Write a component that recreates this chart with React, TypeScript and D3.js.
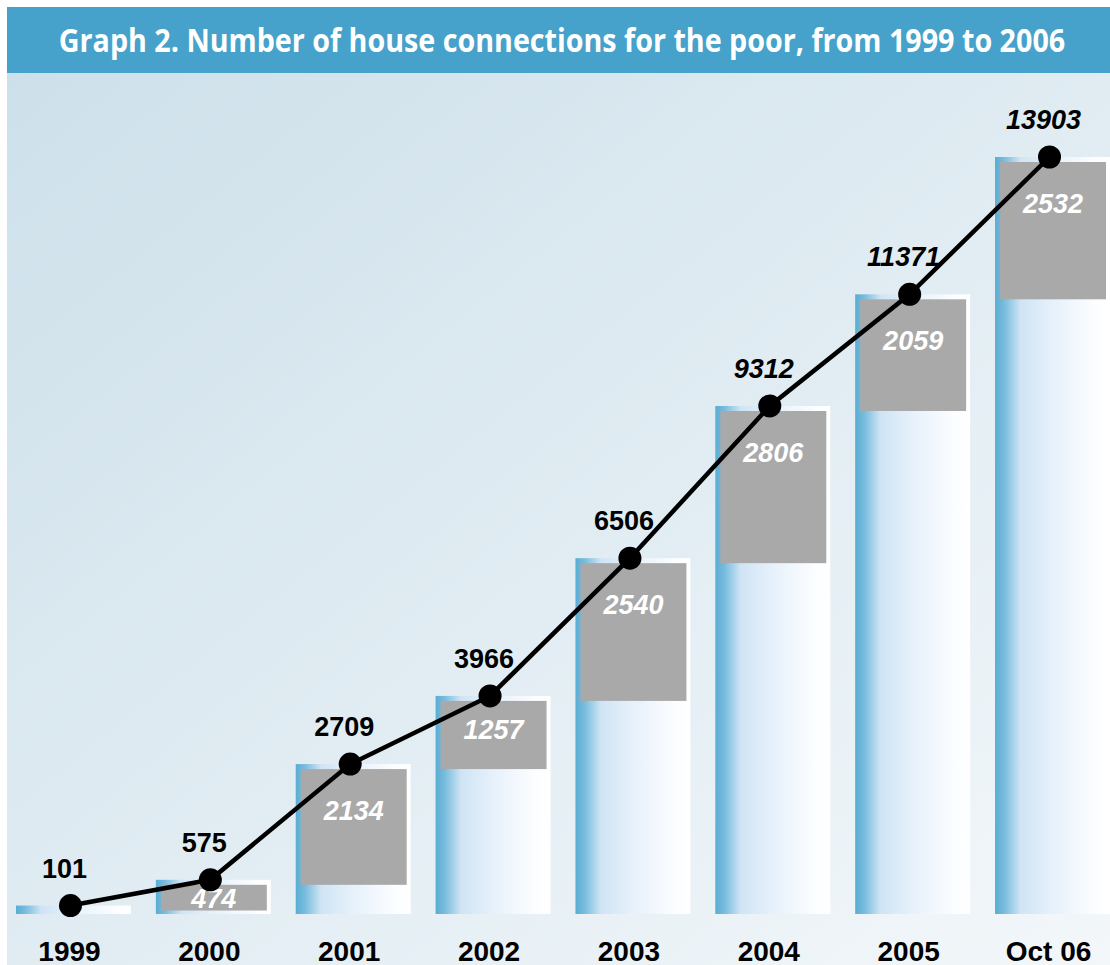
import { useEffect, useRef } from 'react';
import * as d3 from 'd3';

const years = ['1999', '2000', '2001', '2002', '2003', '2004', '2005', 'Oct 06'];
const totals = [101, 575, 2709, 3966, 6506, 9312, 11371, 13903];
const added = [0, 474, 2134, 1257, 2540, 2806, 2059, 2532];
const italicTotals = [false, false, false, false, false, true, true, true];

const W = 1110;
const H = 965;

export default function App() {
  const svgRef = useRef<SVGSVGElement>(null);

  useEffect(() => {
    if (!svgRef.current) return;
    const svg = d3.select(svgRef.current);
    svg.selectAll('*').remove();

    const defs = svg.append('defs');

    // panel background
    const bg = defs.append('linearGradient')
      .attr('id', 'bgGrad')
      .attr('x1', '0%').attr('y1', '0%')
      .attr('x2', '100%').attr('y2', '100%');
    bg.append('stop').attr('offset', '0%').attr('stop-color', '#cde0ea');
    bg.append('stop').attr('offset', '55%').attr('stop-color', '#e2edf3');
    bg.append('stop').attr('offset', '100%').attr('stop-color', '#f3f7fa');

    // bar gradient, blue on the left fading to white
    const barGrad = defs.append('linearGradient')
      .attr('id', 'barGrad')
      .attr('x1', '0%').attr('y1', '0%')
      .attr('x2', '100%').attr('y2', '0%');
    barGrad.append('stop').attr('offset', '0%').attr('stop-color', '#5aadd3');
    barGrad.append('stop').attr('offset', '8%').attr('stop-color', '#78bcdd');
    barGrad.append('stop').attr('offset', '22%').attr('stop-color', '#cfe4f4');
    barGrad.append('stop').attr('offset', '50%').attr('stop-color', '#e6f1fb');
    barGrad.append('stop').attr('offset', '85%').attr('stop-color', '#fbfdff');
    barGrad.append('stop').attr('offset', '100%').attr('stop-color', '#ffffff');

    svg.append('rect')
      .attr('x', 7).attr('y', 73)
      .attr('width', W - 7).attr('height', H - 73)
      .attr('fill', 'url(#bgGrad)');

    // title bar
    svg.append('rect')
      .attr('x', 7).attr('y', 7)
      .attr('width', W - 7).attr('height', 66)
      .attr('fill', '#46a2ca');

    // condensed-looking title: squeeze horizontally to the reference width
    const titleG = svg.append('g');
    const title = titleG.append('text')
      .attr('x', 0)
      .attr('y', 0)
      .attr('text-anchor', 'middle')
      .attr('fill', '#ffffff')
      .attr('font-family', '"Open Sans", "Noto Sans", sans-serif')
      .attr('font-weight', 700)
      .attr('font-size', '32px')
      .text('Graph 2. Number of house connections for the poor, from 1999 to 2006');
    const natural = (title.node() as SVGTextElement).getComputedTextLength() || 1007;
    const sx = Math.min(1, 1007 / natural);
    titleG.attr('transform', `translate(562,52) scale(${sx},1)`);

    const x = d3.scaleBand<string>()
      .domain(years)
      .range([16, W])
      .paddingInner(0.178)
      .paddingOuter(0);

    const y = d3.scaleLinear()
      .domain([0, 13903])
      .range([914, 160]);

    const bw = x.bandwidth();
    const cx = (i: number) => (x(years[i]) as number) + bw / 2;

    // bars
    const bars = svg.append('g');
    years.forEach((yr, i) => {
      const top = y(totals[i]) - 3;
      bars.append('rect')
        .attr('x', x(yr))
        .attr('y', top)
        .attr('width', bw)
        .attr('height', y(0) - top)
        .attr('fill', 'url(#barGrad)');

      if (added[i] > 0) {
        const gTop = y(totals[i]) + 2;
        const gBot = y(totals[i] - added[i]) + 2;
        const gh = gBot - gTop;
        bars.append('rect')
          .attr('x', (x(yr) as number) + 5)
          .attr('y', gTop)
          .attr('width', bw - 9)
          .attr('height', gh)
          .attr('fill', '#a9a9a9');

        bars.append('text')
          .attr('x', (x(yr) as number) + 5 + (bw - 9) / 2)
          .attr('y', gTop + Math.min(42, gh * 0.36 + 5))
          .attr('text-anchor', 'middle')
          .attr('dominant-baseline', 'central')
          .attr('fill', '#ffffff')
          .attr('font-family', '"Liberation Sans", Arial, sans-serif')
          .attr('font-weight', 'bold')
          .attr('font-style', 'italic')
          .attr('font-size', '27px')
          .text(String(added[i]));
      }
    });

    // line + dots
    const pts: [number, number][] = totals.map((v, i) => [cx(i) - 3, y(v) - 3]);
    svg.append('path')
      .datum(pts)
      .attr('d', d3.line())
      .attr('fill', 'none')
      .attr('stroke', '#000')
      .attr('stroke-width', 4.5);

    svg.append('g')
      .selectAll('circle')
      .data(pts)
      .join('circle')
      .attr('cx', (d) => d[0])
      .attr('cy', (d) => d[1])
      .attr('r', 11.5)
      .attr('fill', '#000');

    // total labels
    svg.append('g')
      .selectAll('text')
      .data(totals)
      .join('text')
      .attr('x', (d, i) => pts[i][0] - 6)
      .attr('y', (d, i) => pts[i][1] - 37)
      .attr('text-anchor', 'middle')
      .attr('dominant-baseline', 'central')
      .attr('fill', '#000')
      .attr('font-family', '"Liberation Sans", Arial, sans-serif')
      .attr('font-weight', 'bold')
      .attr('font-style', (d, i) => (italicTotals[i] ? 'italic' : 'normal'))
      .attr('font-size', '27px')
      .text((d) => String(d));

    // x axis labels
    svg.append('g')
      .selectAll('text')
      .data(years)
      .join('text')
      .attr('x', (d) => (x(d) as number) + bw / 2 - 4)
      .attr('y', 951)
      .attr('text-anchor', 'middle')
      .attr('dominant-baseline', 'central')
      .attr('fill', '#000')
      .attr('font-family', '"Liberation Sans", Arial, sans-serif')
      .attr('font-weight', 'bold')
      .attr('font-size', '28px')
      .text((d) => d);
  }, []);

  return (
    <div style={{ position: 'absolute', left: 0, top: 0 }}>
      <svg ref={svgRef} width={W} height={H} style={{ display: 'block', background: '#fff' }} />
    </div>
  );
}
